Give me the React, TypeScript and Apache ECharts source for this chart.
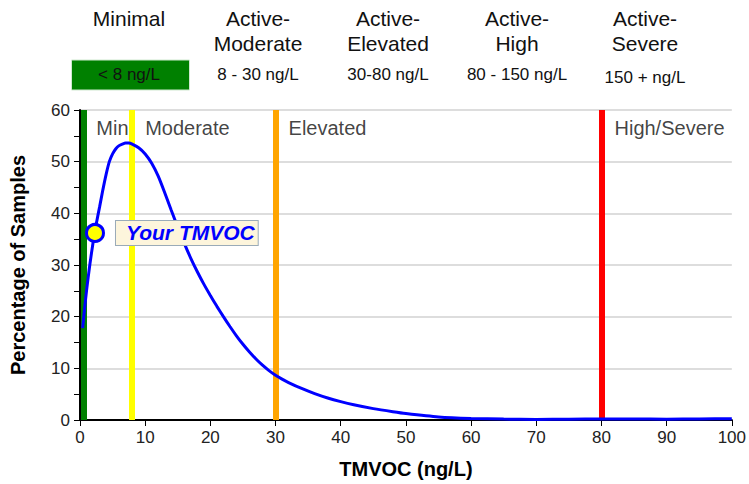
import React, { useEffect, useRef } from "react";
import * as echarts from "echarts";

const curveX = [0.4, 0.7, 1, 1.5, 2, 2.5, 3, 3.5, 4, 4.5, 5, 5.5, 6, 6.5, 7, 7.5, 8, 9, 10, 11, 12, 13, 14, 15, 16, 17, 18, 19, 20, 21, 22, 23, 24, 25, 26, 27, 28, 29, 30, 31, 32, 34, 36, 38, 40, 42, 45, 48, 50, 55, 60, 65, 70, 75, 80, 85, 90, 95, 100];
const curveY = [17.8, 21.5, 25, 30, 34.3, 38, 41.2, 44.5, 47.5, 50, 51.5, 52.5, 53.1, 53.4, 53.6, 53.6, 53.4, 52.7, 51.5, 49.7, 47.2, 44.0, 40.6, 37.3, 34.2, 31.3, 28.7, 26.3, 24.1, 22.0, 20.0, 18.1, 16.3, 14.65, 13.15, 11.8, 10.6, 9.55, 8.65, 7.9, 7.25, 6.1, 5.1, 4.25, 3.55, 2.95, 2.2, 1.6, 1.25, 0.6, 0.3, 0.17, 0.12, 0.15, 0.2, 0.2, 0.15, 0.2, 0.25];

const thresholdValues = [0.5, 8, 30, 80];
const thresholdColors = ["#008000", "#ffff00", "#ffa500", "#ff0000"];

const zoneNames = ["Min", "Moderate", "Elevated", "High/Severe"];
const zoneLabelX = [2.5, 10.0, 32.0, 82.0];
const zoneLabelY = 56.5;

const yourValue = [2.3, 36.2];
const yourLabel = "Your TMVOC";

const levelNames = ["Minimal", "Active-\nModerate", "Active-\nElevated", "Active-\nHigh", "Active-\nSevere"];
const levelRanges = ["< 8 ng/L", "8 - 30 ng/L", "30-80 ng/L", "80 - 150 ng/L", "150 + ng/L"];

const xTitle = "TMVOC (ng/L)";
const yTitle = "Percentage of Samples";

export default function App() {
  const ref = useRef<HTMLDivElement>(null);
  useEffect(() => {
    document.body.style.margin = "0";
    const chart = echarts.init(ref.current!, null, { renderer: "svg" });
    const font = "'Liberation Sans', Arial, sans-serif";
    const headerCenters = [129, 258, 388, 517, 645];
    const rangeY = [74, 74, 74, 74, 77];
    const graphics: any[] = [];
    graphics.push({
      type: "rect",
      shape: { x: 71.5, y: 60, width: 118, height: 30 },
      style: { fill: "#008000", stroke: "#cfe8cf", lineWidth: 1 },
    });
    levelNames.forEach((t, i) => {
      graphics.push({
        type: "text",
        x: headerCenters[i],
        y: 5.5,
        style: { text: t, fontSize: 21, fontFamily: font, fill: "#111", align: "center", verticalAlign: "top", lineHeight: 25 },
      });
    });
    levelRanges.forEach((t, i) => {
      graphics.push({
        type: "text",
        x: headerCenters[i],
        y: rangeY[i],
        style: { text: t, fontSize: 17, fontFamily: font, fill: "#111", align: "center", verticalAlign: "middle" },
      });
    });

    chart.setOption({
      animation: false,
      textStyle: { fontFamily: font },
      grid: { left: 79, right: 16, top: 110, bottom: 64 },
      xAxis: {
        type: "value",
        min: 0,
        max: 100,
        interval: 10,
        name: xTitle,
        nameLocation: "middle",
        nameGap: 39,
        nameTextStyle: { fontSize: 20, fontWeight: "bold", color: "#000", fontFamily: font },
        axisLine: { show: true, onZero: false, lineStyle: { color: "#000", width: 2 } },
        axisTick: { show: true, length: 6, lineStyle: { color: "#000" } },
        axisLabel: { fontSize: 17, color: "#222", margin: 9, fontFamily: font },
        splitLine: { show: false },
      },
      yAxis: {
        type: "value",
        min: 0,
        max: 60,
        interval: 10,
        name: yTitle,
        nameLocation: "middle",
        nameGap: 52,
        nameTextStyle: { fontSize: 20, fontWeight: "bold", color: "#000", fontFamily: font },
        axisLine: { show: true, lineStyle: { color: "#000", width: 2 } },
        axisTick: { show: true, length: 6, lineStyle: { color: "#000" } },
        minorTick: { show: true, splitNumber: 2, length: 6, lineStyle: { color: "#000" } },
        axisLabel: { fontSize: 17, color: "#222", margin: 10, fontFamily: font },
        splitLine: { show: true, lineStyle: { color: "#dddddd", width: 2 } },
      },
      graphic: graphics,
      series: [
        {
          type: "line",
          data: [],
          z: 1,
          markLine: {
            z: 1,
            silent: true,
            symbol: "none",
            label: { show: false },
            data: thresholdValues.map((v, i) => ({ xAxis: v, lineStyle: { color: thresholdColors[i], width: 6, type: "solid" } })),
          },
        },
        {
          type: "line",
          data: curveX.map((x, i) => [x, curveY[i]]),
          smooth: 0.2,
          showSymbol: false,
          lineStyle: { color: "#0000ff", width: 3 },
          itemStyle: { color: "#0000ff" },
          z: 3,
        },
        {
          type: "scatter",
          data: zoneLabelX.map((x, i) => ({ value: [x, zoneLabelY], name: zoneNames[i] })),
          symbolSize: 0,
          z: 4,
          label: {
            show: true,
            position: "right",
            distance: 0,
            formatter: (p: any) => p.name,
            fontSize: 20,
            color: "#111",
            fontFamily: font,
          },
        },
        {
          type: "scatter",
          data: [yourValue],
          symbolSize: 17,
          z: 10,
          itemStyle: { color: "#ffff00", borderColor: "#0000ff", borderWidth: 3, opacity: 1 },
          label: {
            show: true,
            position: "right",
            distance: 11,
            formatter: yourLabel,
            fontSize: 21,
            fontStyle: "italic",
            fontWeight: "bold",
            color: "#0000ff",
            fontFamily: font,
            backgroundColor: "#fdf5dc",
            borderColor: "#9aabb8",
            borderWidth: 1,
            padding: [2, 3, 1, 10],
          },
        },
      ],
    });
    return () => chart.dispose();
  }, []);
  return <div ref={ref} style={{ width: 749, height: 484 }} />;
}
